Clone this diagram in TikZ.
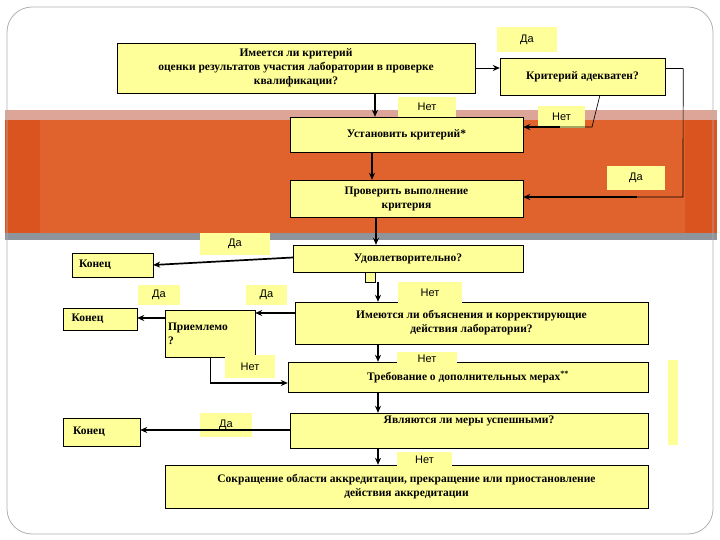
\documentclass[tikz,border=0pt]{standalone}
\usepackage{fontspec}
\usetikzlibrary{arrows.meta}
\setmainfont{Liberation Serif}
\newfontfamily\lab{Liberation Sans}
\definecolor{yel}{HTML}{FFFF99}
\definecolor{band}{HTML}{D9541E}
\definecolor{bandin}{HTML}{E0622C}
\definecolor{pinkish}{HTML}{DDA597}
\definecolor{greystrip}{HTML}{8E949B}
\tikzset{
 box/.style={draw=black, fill=yel, inner sep=1pt, align=center, font=\bfseries\fontsize{11.5}{14}\selectfont},
 lbl/.style={fill=yel, inner sep=1pt, font=\lab\fontsize{11}{13}\selectfont},
 arr/.style={-{Stealth[length=7pt,width=6pt]}, line width=1.7pt},
 thn/.style={line width=0.7pt}
}
\newcommand{\bx}[7]{\node[#1, minimum width=#4-#2, minimum height=#5-#3] (#6) at ({(#2+#4)/2},{(#3+#5)/2}) {#7};}
\begin{document}
\begin{tikzpicture}[x=1pt,y=-1pt]
\useasboundingbox (0,0) rectangle (720,540);
\fill[white] (0,0) rectangle (720,540);
% band
\fill[pinkish] (5,110) rectangle (717,120);
\fill[band] (5,120) rectangle (717,233);
\fill[bandin] (40,120) rectangle (685,233);
\fill[greystrip] (5,233) rectangle (717,240);
\draw[gray!60, line width=0.8pt, rounded corners=25pt] (7,7) rectangle (713,534);
% boxes
\bx{box}{117}{43}{475}{93}{b1}{Имеется ли критерий\\оценки результатов участия лаборатории в проверке\\квалификации?}
\bx{box}{500}{58}{665}{95}{b2}{Критерий адекватен?}
\bx{box}{290}{117}{523}{152}{b3}{Установить критерий*}
\bx{box}{290}{180}{523}{217}{b4}{Проверить выполнение\\критерия}
\bx{box}{293}{245}{523}{272}{b5}{Удовлетворительно?}
\bx{box}{72}{253}{153}{277}{k1}{Конец\hspace{35pt}}
\bx{box}{63}{308}{137}{330}{k2}{Конец\hspace{25pt}}
\node[box, align=left, minimum width=90, minimum height=47, text width=84] (p) at (210,333.5) {Приемлемо\\?};
\bx{box}{295}{302}{648}{344}{b6}{Имеются ли объяснения и корректирующие\\действия лаборатории?}
\bx{box}{288}{362}{648}{392}{b7}{Требование о дополнительных мерах\textsuperscript{**}}
\bx{box}{290}{413}{648}{448}{b8}{Являются ли меры успешными?\\[8pt]}
\bx{box}{63}{418}{140}{446}{k3}{Конец\hspace{25pt}}
\bx{box}{165}{465}{648}{508}{b9}{Сокращение области  аккредитации, прекращение или приостановление\\действия аккредитации}
\node[draw, fill=yel, minimum size=10pt, inner sep=0] (sq) at (370,277) {};
\fill[yel] (668,360) rectangle (678,445);
% labels
\bx{lbl}{497}{27}{557}{52}{l1}{Да}
\bx{lbl}{398}{97}{456}{117}{l2}{Нет}
\bx{lbl}{538}{106}{585}{128}{l3}{Нет}
\bx{lbl}{607}{166}{665}{190}{l4}{Да}
\bx{lbl}{200}{233}{270}{255}{l5}{Да}
\bx{lbl}{138}{285}{180}{305}{l6}{Да}
\bx{lbl}{246}{285}{287}{305}{l7}{Да}
\bx{lbl}{398}{282}{462}{303}{l8}{Нет}
\bx{lbl}{397}{352}{457}{365}{l9}{Нет}
\bx{lbl}{225}{355}{275}{378}{l10}{Нет}
\bx{lbl}{200}{413}{252}{437}{l11}{Да}
\bx{lbl}{397}{452}{452}{468}{l12}{Нет}
% connectors
\draw[arr, line width=0.9pt] (b1.east) -- (b2.west |- b1.east);
\draw[thn] (b2.east) ++(0,-8) coordinate (c1) -- ++(18,0) coordinate (c2);
\coordinate (c3) at (683,197);
\draw[thn] (c2) -- (c3) -- (637,197);
\draw[arr] (637,197) -- (b4.east |- c3);
\coordinate (c4) at (600,95);
\coordinate (c5) at (592,127);
\draw[thn] (c4) -- (c5) -- (560,127);
\draw[arr] (560,127) -- (b3.east |- c5);
\coordinate (c6) at (375,93);
\draw[arr] (c6) -- (c6 |- b3.north);
\coordinate (c6b) at (372,152);
\draw[arr] (c6b) -- (c6b |- b4.north);
\coordinate (c6c) at (376,217);
\draw[arr] (c6c) -- (c6c |- b5.north);
\draw[arr] ([yshift=1pt]b5.west) -- (k1.east);
\coordinate (c7) at (378,282);
\draw[arr] (c7) -- (c7 |- b6.north);
\coordinate (c8) at (378,344);
\draw[arr] (c8) -- (c8 |- b7.north);
\coordinate (c9) at (378,392);
\draw[arr] (c9) -- (c9 |- b8.north);
\coordinate (c10) at (378,448);
\draw[arr] (c10) -- (c10 |- b9.north);
\coordinate (c11) at (295,313);
\draw[arr] (c11) -- (c11 -| p.east);
\coordinate (c12) at (165,318);
\draw[arr] (c12) -- (c12 -| k2.east);
\coordinate (c13) at (210,383);
\draw[thn] (p.south) -- (c13);
\draw[arr] (c13) -- (c13 -| b7.west);
\coordinate (c14) at (290,430);
\draw[arr] (c14) -- (c14 -| k3.east);
\end{tikzpicture}
\end{document}
